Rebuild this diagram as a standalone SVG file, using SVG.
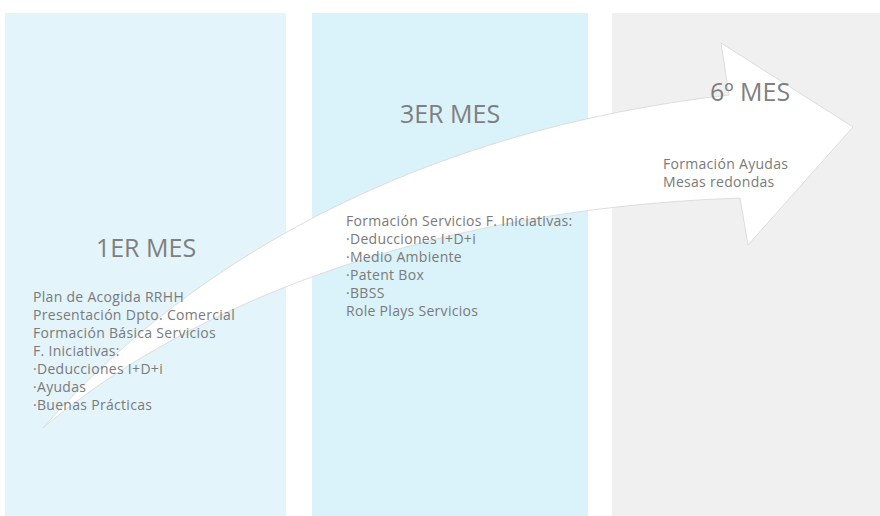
<svg xmlns="http://www.w3.org/2000/svg" width="880" height="516" viewBox="0 0 880 516">
  <style>
    .head { font-family: "Open Sans", "Liberation Sans", sans-serif; font-size: 25px; fill: #7f7f7f; text-anchor: middle; }
    .body { font-family: "Open Sans", "Liberation Sans", sans-serif; font-size: 14px; fill: #7a7a7a; letter-spacing: 0.3px; }
    .arrow { fill: #ffffff; stroke: #d6d6d6; stroke-width: 0.8; }
  </style>
  <rect x="0" y="0" width="880" height="516" fill="#ffffff"/>
  <g id="panel-1">
    <rect x="5" y="13" width="281" height="503" fill="#e3f4fb"/>
  </g>
  <g id="panel-2">
    <rect x="312" y="13" width="276" height="503" fill="#daf2f9"/>
  </g>
  <g id="panel-3">
    <rect x="612" y="13" width="268" height="503" fill="#f0f0f0"/>
  </g>
  <g id="connectors">
    <path class="arrow" d="M43,428 C190,260 420,130 729,95 L721,43 L853,127 L748,245 L740,198 C400,210 170,320 43,428 Z"/>
  </g>
  <g id="node-1er-mes">
    <text class="head" x="146" y="257">1ER MES</text>
    <text class="body" x="33" y="301.5">Plan de Acogida RRHH</text>
    <text class="body" x="33" y="319.5">Presentación Dpto. Comercial</text>
    <text class="body" x="33" y="337.5">Formación Básica Servicios</text>
    <text class="body" x="33" y="355.5">F. Iniciativas:</text>
    <text class="body" x="33" y="373.5">·Deducciones I+D+i</text>
    <text class="body" x="33" y="391.5">·Ayudas</text>
    <text class="body" x="33" y="409.5">·Buenas Prácticas</text>
  </g>
  <g id="node-3er-mes">
    <text class="head" x="450" y="123">3ER MES</text>
    <text class="body" x="346" y="226">Formación Servicios F. Iniciativas:</text>
    <text class="body" x="346" y="244">·Deducciones I+D+i</text>
    <text class="body" x="346" y="262">·Medio Ambiente</text>
    <text class="body" x="346" y="280">·Patent Box</text>
    <text class="body" x="346" y="298">·BBSS</text>
    <text class="body" x="346" y="316">Role Plays Servicios</text>
  </g>
  <g id="node-6-mes">
    <text class="head" x="750" y="101">6º MES</text>
    <text class="body" x="663" y="169">Formación Ayudas</text>
    <text class="body" x="663" y="187">Mesas redondas</text>
  </g>
</svg>
